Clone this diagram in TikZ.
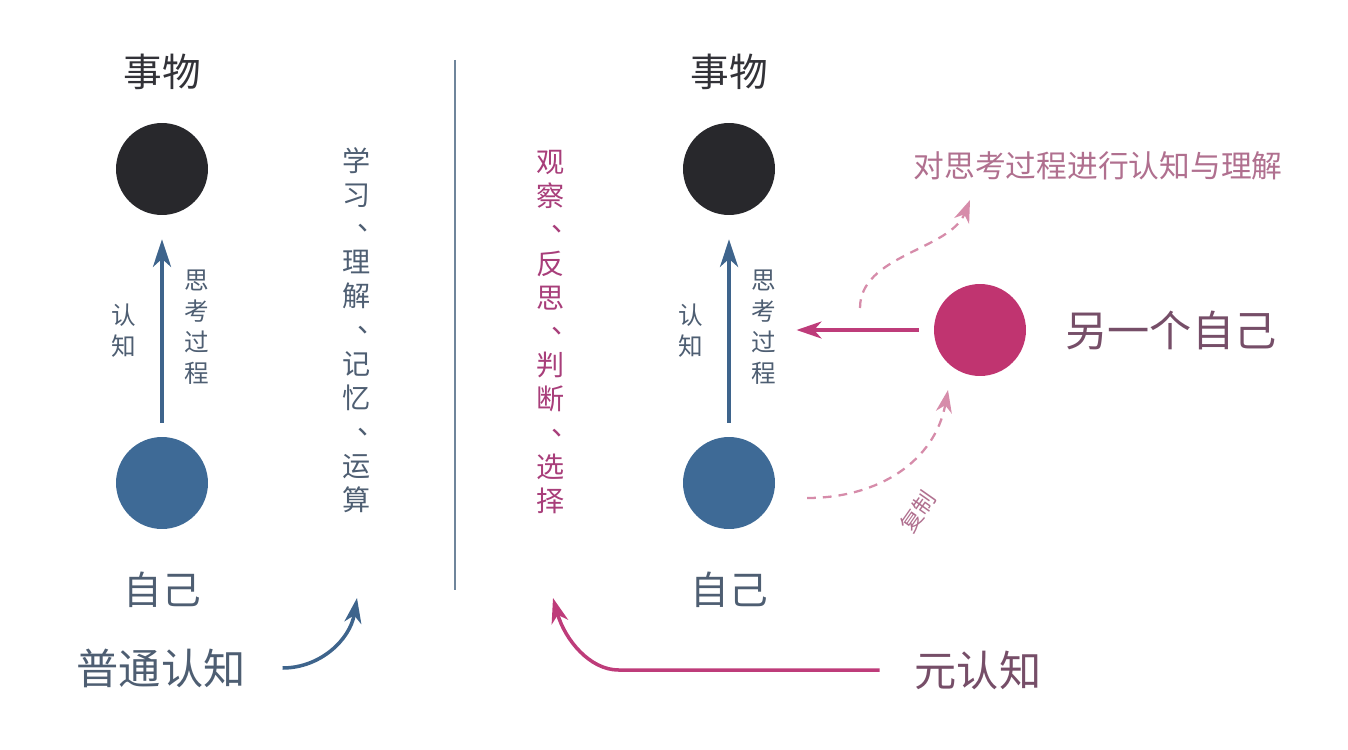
\documentclass[tikz,border=0pt]{standalone}
\usepackage{fontspec}
\setmainfont{Noto Sans CJK SC}
\usetikzlibrary{arrows.meta,positioning}

\definecolor{dotblue}{RGB}{62,106,150}
\definecolor{dotdark}{RGB}{40,40,44}
\definecolor{dotpink}{RGB}{192,52,112}
\definecolor{arrblue}{RGB}{62,100,140}
\definecolor{arrpink}{RGB}{190,60,122}
\definecolor{dashpink}{RGB}{214,140,170}
\definecolor{txtdark}{RGB}{50,50,56}
\definecolor{txtblue}{RGB}{78,94,114}
\definecolor{txtpink}{RGB}{168,62,122}
\definecolor{txtplum}{RGB}{118,78,104}
\definecolor{txtrose}{RGB}{176,112,143}

% vertical enumeration comma
\newcommand\dun{\makebox[1em][l]{\hspace{0.5em}\raisebox{0.3em}{、}}}

\begin{document}
\begin{tikzpicture}[
  x=0.02cm, y=-0.02cm,
  dot/.style={circle, minimum size=1.84cm, inner sep=0pt},
  big/.style={font=\fontsize{22}{26}\selectfont},
  huge/.style={font=\fontsize{24}{28}\selectfont},
  vlist/.style={align=center, font=\fontsize{16}{19.3}\selectfont},
  vsmall/.style={align=center, text=txtblue, font=\fontsize{14}{17.6}\selectfont},
  uparr/.style={-{Stealth[length=5.5mm, width=3.6mm, inset=1.6mm]}, line width=2.3pt, arrblue},
  pinkarr/.style={-{Stealth[length=5mm, width=3.4mm, inset=1.5mm]}, line width=2pt, arrpink},
  dasharr/.style={-{Stealth[length=4.5mm, width=3.2mm, inset=1.4mm]}, line width=1.3pt, dashpink, dash pattern=on 5pt off 4pt}
]
\useasboundingbox (0,0) rectangle (1348,750);

% left: common cognition
\node[big, text=txtdark] (thing1) at (162,72) {事物};
\node[dot, fill=dotdark] (obj1) at (162,169) {};
\node[dot, fill=dotblue] (me1) at (162,483) {};
\node[big, text=txtblue] (self1) at (162,590) {自己};
\node[vsmall] (know1) at (124,331) {认\\知};
\node[vsmall] (think1) at (197,327) {思\\考\\过\\程};
\node[vlist, text=txtblue] (learn) at (357,330) {学\\习\\\dun\\理\\解\\\dun\\记\\忆\\\dun\\运\\算};
\node[huge, text=txtblue] (common) at (161,668) {普通认知};
\coordinate (learnend) at (357,598);

\draw[uparr, shorten <=0.28cm, shorten >=0.48cm] (me1) -- (obj1);
\draw[-{Stealth[length=5mm, width=3.4mm, inset=1.5mm]}, line width=2pt, arrblue, shorten <=0.62cm]
  (common.east) .. controls (320,668) and (350,640) .. (learnend);

\draw[line width=1.1pt, black!20!arrblue!70] (455,60) -- (455,590);

% right: metacognition
\node[big, text=txtdark] (thing2) at (729,72) {事物};
\node[dot, fill=dotdark] (obj2) at (729,169) {};
\node[dot, fill=dotblue] (me2) at (729,483) {};
\node[big, text=txtblue] (self2) at (729,590) {自己};
\node[vsmall] (know2) at (691,331) {认\\知};
\node[vsmall] (think2) at (764,327) {思\\考\\过\\程};
\node[vlist, text=txtpink] (observe) at (551,332) {观\\察\\\dun\\反\\思\\\dun\\判\\断\\\dun\\选\\择};

\node[dot, fill=dotpink] (other) at (980,330) {};
\node[huge, text=txtplum] (otherlbl) at (1171,330) {另一个自己};
\node[font=\fontsize{17.5}{21}\selectfont, text=txtrose] (reflect) at (1098,166) {对思考过程进行认知与理解};
\node[font=\fontsize{12.5}{15}\selectfont, text=txtrose, rotate=55, inner sep=1pt] (copy) at (918,512) {复制};
\node[huge, text=txtplum] (meta) at (978,670) {元认知};

\coordinate (reflectfrom) at (860,308);
\coordinate (reflectto) at (970,200);
\coordinate (copyfrom) at (807,498);
\coordinate (copyto) at (948,390);
\coordinate (observeend) at (553,598);

\draw[uparr, shorten <=0.28cm, shorten >=0.48cm] (me2) -- (obj2);
\draw[pinkarr, shorten <=0.3cm, shorten >=0.28cm] (other.west) -- (other.west -| think2.east);
\draw[dasharr] (reflectfrom) .. controls (860,255) and (950,250) .. (reflectto);
\draw[dasharr] (copyfrom) .. controls (880,498) and (935,460) .. (copyto);
\draw[pinkarr, shorten <=0.58cm] (meta.west) -- ++(-290,0) .. controls (590,670) and (565,640) .. (observeend);

\end{tikzpicture}
\end{document}
